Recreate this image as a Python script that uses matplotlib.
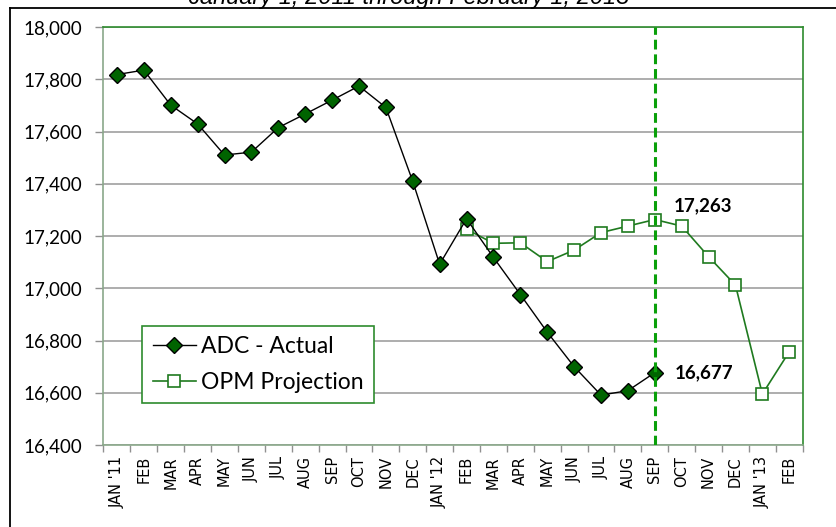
import numpy as np
import matplotlib.pyplot as plt
from matplotlib.lines import Line2D
from matplotlib.ticker import FuncFormatter

# 月份标签
months = ["JAN '11", "FEB", "MAR", "APR", "MAY", "JUN", "JUL", "AUG", "SEP", "OCT", "NOV", "DEC",
          "JAN '12", "FEB", "MAR", "APR", "MAY", "JUN", "JUL", "AUG", "SEP", "OCT", "NOV", "DEC",
          "JAN '13", "FEB"]

# ADC 实际值 (JAN '11 - SEP '12)
adc_actual = [17818, 17835, 17701, 17629, 17510, 17521, 17615, 17667, 17720, 17774, 17692, 17409,
              17092, 17266, 17118, 16976, 16832, 16700, 16591, 16608, 16677]

# OPM 预测值 (FEB '12 - FEB '13)
opm_start = 13
opm_projection = [17226, 17172, 17174, 17102, 17146, 17213, 17238, 17263, 17238, 17121, 17012,
                  16595, 16757]

cutoff = 20  # SEP '12
label_actual = "16,677"
label_proj = "17,263"

W, H = 837, 527
fig = plt.figure(figsize=(W / 100, H / 100), dpi=100)
ax = fig.add_axes([103.5 / W, 1 - 445 / H, (802.7 - 103.5) / W, (445 - 27) / H])

x_all = np.arange(len(months))
x_act = x_all[:len(adc_actual)]
x_opm = x_all[opm_start:opm_start + len(opm_projection)]

ax.plot(x_opm, opm_projection, color='#1f7a1f', lw=1.2, marker='s', ms=8.5,
        mfc='white', mec='#1f7a1f', mew=1.2, label='OPM Projection', zorder=3)
ax.plot(x_act, adc_actual, color='black', lw=1.0, marker='D', ms=8.5,
        mfc='#006400', mec='black', mew=1.0, label='ADC - Actual', zorder=4)

ax.axvline(cutoff, color='#0aa00a', lw=2.2, ls=(0, (3.2, 1.6)), zorder=5)

ax.set_xlim(-0.5, len(months) - 0.5)
ax.set_ylim(16400, 18000)
ax.set_yticks(np.arange(16400, 18001, 200))
ax.yaxis.set_major_formatter(FuncFormatter(lambda v, p: f'{int(v):,}'))
ax.grid(axis='y', color='#a0a0a0', lw=1.2, zorder=0)

# 类别边界刻度
ax.set_xticks(np.arange(-0.5, len(months), 1.0))
ax.set_xticklabels([])
ax.set_xticks(x_all, minor=True)
ax.set_xticklabels(months, minor=True, rotation=90, fontsize=10.5, family='DejaVu Sans')
ax.tick_params(axis='x', which='major', length=5, color='#909090', width=1)
ax.tick_params(axis='x', which='minor', length=0, pad=8)
ax.tick_params(axis='y', length=6, color='#909090', width=1, labelsize=13.5, pad=9)
for lab in ax.get_yticklabels():
    lab.set_family('Lato')

for side in ['top', 'right']:
    ax.spines[side].set_color('#2e8b2e')
    ax.spines[side].set_linewidth(1.2)
for side in ['left', 'bottom']:
    ax.spines[side].set_color('#8aa88a')
    ax.spines[side].set_linewidth(1.2)

ax.text(cutoff + 0.7, opm_projection[cutoff - opm_start] + 22, label_proj, fontsize=13.5,
        fontweight='bold', family='Lato', va='bottom', ha='left')
ax.text(cutoff + 0.75, adc_actual[cutoff], label_actual, fontsize=13.5,
        fontweight='bold', family='Lato', va='center', ha='left')

handles, labels = ax.get_legend_handles_labels()
leg = ax.legend(handles[::-1], labels[::-1], loc='upper left',
                bbox_to_anchor=((142.3 - 103.5) / (802.7 - 103.5), 1 - (325.7 - 27) / 418),
                prop={'family': 'Lato', 'size': 16.5}, frameon=True, fancybox=False,
                framealpha=1, edgecolor='#2e8b2e', handlelength=1.9, handletextpad=0.2,
                borderpad=0.45, labelspacing=0.65, borderaxespad=0)
leg.get_frame().set_linewidth(1.2)
leg.set_zorder(6)

# 外框与标题
fig.add_artist(Line2D([10 / W, 1], [1 - 8 / H, 1 - 8 / H], color='black', lw=1.3))
fig.add_artist(Line2D([10 / W, 10 / W], [0, 1 - 8 / H], color='black', lw=1.3))
fig.text(409 / W, 1 - 4 / H, 'January 1, 2011 through February 1, 2013', ha='center',
         va='baseline', fontsize=17, style='italic', family='Liberation Sans')

fig.savefig('out.png', dpi=100)
